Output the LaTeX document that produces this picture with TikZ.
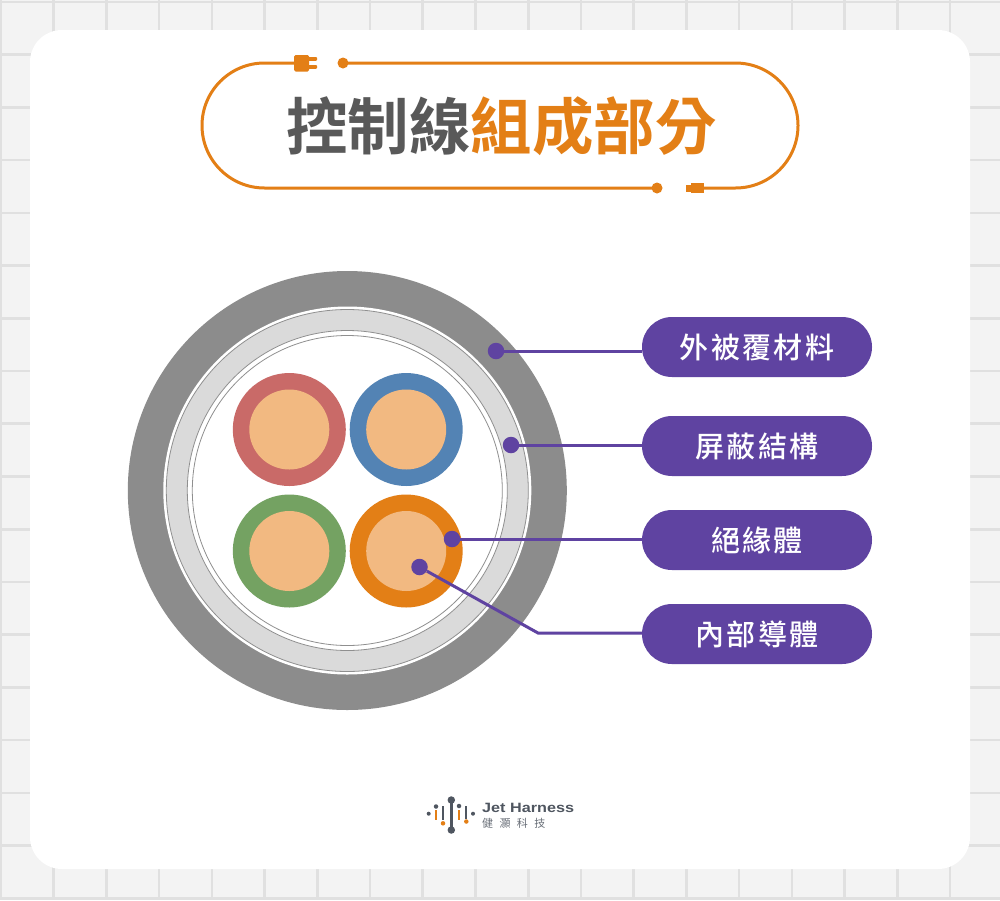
\documentclass[tikz,border=0pt]{standalone}
\usepackage{fontspec}
\setmainfont{Noto Sans CJK TC}
\newfontfamily\titlefont{Noto Sans CJK TC Bold}
\newfontfamily\pillfont[LetterSpace=8]{Noto Sans CJK TC Medium}
\newfontfamily\brandfont[FakeStretch=1.2]{Liberation Sans}
\newfontfamily\brandcjk[LetterSpace=58]{Noto Sans CJK TC}
\definecolor{pagebg}{HTML}{F3F3F3}
\definecolor{gridline}{HTML}{E0E0E0}
\definecolor{accent}{HTML}{E37F16}
\definecolor{headgray}{HTML}{595959}
\definecolor{jacket}{HTML}{8C8C8C}
\definecolor{shield}{HTML}{DADADA}
\definecolor{edgegray}{HTML}{8F8F8F}
\definecolor{copper}{HTML}{F2B981}
\definecolor{wirered}{HTML}{C96A68}
\definecolor{wireblue}{HTML}{5383B4}
\definecolor{wiregreen}{HTML}{74A262}
\definecolor{callout}{HTML}{5F43A1}
\definecolor{logogray}{HTML}{4F5660}
\tikzset{
  x=1pt, y=-1pt,
  frameline/.style={draw=accent, line width=3pt},
  cordend/.style={circle, fill=accent, minimum size=11pt, inner sep=0pt},
  pill/.style={fill=callout, text=white, rounded corners=30pt, minimum width=230pt,
    minimum height=60pt, inner sep=0pt, font=\pillfont\fontsize{29}{29}\selectfont},
  tagdot/.style={circle, fill=callout, minimum size=16.5pt, inner sep=0pt},
  leader/.style={draw=callout, line width=3pt},
  sleeve/.style={fill=#1, circle, minimum size=113pt, inner sep=0pt},
  core/.style={fill=copper, circle, minimum size=80pt, inner sep=0pt},
  logobar/.style={line width=2.2pt, line cap=round},
  logodot/.style={circle, inner sep=0pt, minimum size=#1},
}
\begin{document}
\begin{tikzpicture}
\useasboundingbox (0,0) rectangle (1000,900);
% page background with grid
\fill[pagebg] (0,0) rectangle (1000,900);
\foreach \i in {0,...,18} {
  \draw[gridline, line width=2.6pt] ({1+52.72*\i},0) -- ({1+52.72*\i},900);
}
\foreach \i in {0,...,17} {
  \draw[gridline, line width=2.6pt] (0,{2+52.72*\i}) -- (1000,{2+52.72*\i});
}
\fill[white, rounded corners=32pt] (30,30) rectangle (970,869);

% title frame drawn as a power cord
\node[cordend] (cordtop) at (343,63) {};
\node[cordend] (cordbot) at (657,188) {};
\coordinate (plugtop) at (300,63);
\coordinate (plugbot) at (700,188);
\draw[frameline] (plugtop) -- (264.5,63) arc[start angle=90, end angle=270, radius=62.5pt] -- (cordbot.center);
\draw[frameline] (cordtop.center) -- (735.5,63) arc[start angle=90, end angle=-90, radius=62.5pt] -- (plugbot);
\fill[accent, rounded corners=1.5pt] (294,55) rectangle (309,71.5);
\fill[accent, rounded corners=1pt] (307,57) rectangle (317,60.8);
\fill[accent, rounded corners=1pt] (307,65) rectangle (317,68.8);
\fill[accent] (691,182.5) rectangle (704,192.5);
\fill[accent] (686,185) rectangle (692,191.5);
\node[font=\titlefont\fontsize{61.5}{62}\selectfont, inner sep=0pt] (heading) at (501.5,126)
  {\textcolor{headgray}{控制線}\textcolor{accent}{組成部分}};

% cable cross-section
\fill[jacket] (347.3,490.5) circle[radius=219.5pt];
\fill[white] (347.3,490.5) circle[radius=184pt];
\draw[edgegray, fill=shield, line width=.8pt] (347.3,490.5) circle[radius=181pt];
\draw[edgegray, fill=white, line width=.8pt] (347.3,490.5) circle[radius=160pt];
\draw[edgegray, fill=white, line width=.8pt] (347.3,490.5) circle[radius=155pt];

\node[sleeve=wirered] (w1) at (289.3,429.5) {};
\node[core] at (w1) {};
\node[sleeve=wireblue] (w2) at (406.2,429.5) {};
\node[core] at (w2) {};
\node[sleeve=wiregreen] (w3) at (289.3,551) {};
\node[core] at (w3) {};
\node[sleeve=accent] (w4) at (406.2,551) {};
\node[core] at (w4) {};

% callouts
\node[pill] (p1) at (757,347) {外被覆材料};
\node[pill] (p2) at (757,446) {屏蔽結構};
\node[pill] (p3) at (757,540) {絕緣體};
\node[pill] (p4) at (757,634) {內部導體};
\node[tagdot] (d1) at (496,351) {};
\node[tagdot] (d2) at (511,445) {};
\node[tagdot] (d3) at (452,539) {};
\node[tagdot] (d4) at (419.5,567) {};
\coordinate (elbow) at (538,633);
\draw[leader] (d1) -- (d1 -| p1.west);
\draw[leader] (d2) -- (d2 -| p2.west);
\draw[leader] (d3) -- (d3 -| p3.west);
\draw[leader] (d4) -- (elbow) -- (p4.west |- elbow);

% brand mark
\draw[logobar, logogray, line width=2.6pt] (451.3,800) -- (451.3,830);
\node[logodot=7.5pt, fill=logogray] at (451.3,800) {};
\node[logodot=7.5pt, fill=logogray] at (451.3,830) {};
\node[logodot=4.5pt, fill=logogray] at (436,806.5) {};
\draw[logobar, accent, line cap=butt] (436,810) -- (436,819.5);
\draw[logobar, logogray, line cap=butt] (443,806) -- (443,820);
\node[logodot=4.5pt, fill=accent] at (443,823.3) {};
\node[logodot=4.5pt, fill=logogray] at (459,806) {};
\draw[logobar, accent, line cap=butt] (459,810) -- (459,820);
\draw[logobar, logogray, line cap=butt] (466.3,806) -- (466.3,818.5);
\node[logodot=4.5pt, fill=accent] at (466.3,821.5) {};
\node[logodot=4pt, fill=logogray] at (428.7,813.7) {};
\node[logodot=4pt, fill=logogray] at (473,813.7) {};
\node[anchor=west, inner sep=0pt, text=logogray, font=\brandfont\bfseries\fontsize{13.5}{14}\selectfont] (brand) at (482,808) {Jet Harness};
\node[anchor=west, inner sep=0pt, text=logogray!85, font=\brandcjk\fontsize{11}{12}\selectfont] (brandzh) at (482,823) {健灝科技};
\end{tikzpicture}
\end{document}
